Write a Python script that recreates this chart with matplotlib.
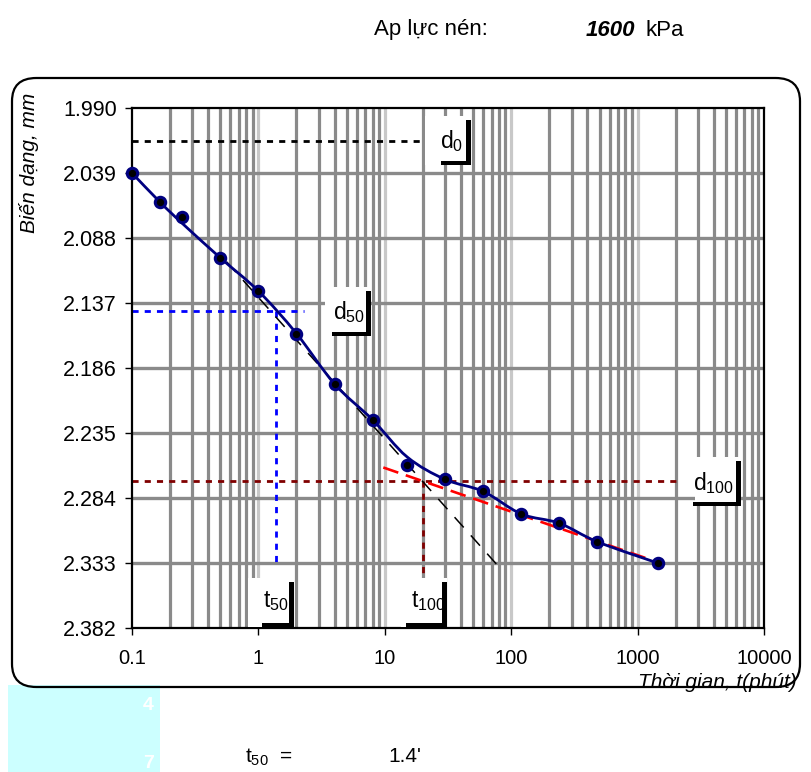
import numpy as np
import matplotlib
matplotlib.use('Agg')
import matplotlib.pyplot as plt
from matplotlib.path import Path
from matplotlib.patches import PathPatch, Rectangle, FancyBboxPatch
from matplotlib.ticker import FixedLocator, NullFormatter

plt.rcParams['font.family'] = ['Liberation Sans', 'DejaVu Sans']
plt.rcParams['mathtext.fontset'] = 'custom'
plt.rcParams['mathtext.rm'] = 'Liberation Sans'
plt.rcParams['mathtext.it'] = 'Liberation Sans:italic'

W, H = 812, 772

# consolidation readings (time in minutes, deformation in mm)
time_min = [0.1, 1 / 6, 0.25, 0.5, 1, 2, 4, 8, 15, 30, 60, 120, 240, 480, 1440]
def_mm = [2.039, 2.061, 2.072, 2.103, 2.128, 2.160, 2.198, 2.225, 2.259,
          2.270, 2.279, 2.296, 2.303, 2.317, 2.333]
# smoothed curve series (passes a little off the 0.25 and 15 min readings)
curve_mm = [2.039, 2.061, 2.077, 2.103, 2.128, 2.160, 2.198, 2.225, 2.253,
            2.270, 2.279, 2.296, 2.303, 2.317, 2.333]

yticks = [1.990, 2.039, 2.088, 2.137, 2.186, 2.235, 2.284, 2.333, 2.382]
xticks = [0.1, 1, 10, 100, 1000, 10000]
xticklabels = ['0.1', '1', '10', '100', '1000', '10000']

d0 = 2.015
d50 = 2.143
d100 = 2.271
t50 = 1.38
t100 = 20.2
t50_text = "1.4'"
pressure = '1600'

# construction lines (t, y) end points
tangent_t = [0.561, 76.7]
tangent_y = [2.106, 2.334]
tail_t = [9.73, 1180]
tail_y = [2.261, 2.3295]

XMIN, XMAX = 0.1, 10000
YTOP, YBOT = 1.990, 2.382


def fx(px):
    return px / W


def fy(py):
    return 1 - py / H


fig = plt.figure(figsize=(W / 100, H / 100), dpi=100)

# cyan block and rounded outer frame
fig.patches.append(Rectangle((fx(8), fy(772)), fx(152), 87 / H, transform=fig.transFigure,
                             facecolor='#ccffff', edgecolor='none', zorder=0.5))
fig.text(fx(154), fy(706), '4', color='white', fontsize=14, fontweight='bold',
         ha='right', va='center', zorder=0.6)
fig.text(fx(154), fy(764), '7', color='white', fontsize=14, fontweight='bold',
         ha='right', va='center', zorder=0.6)
fig.patches.append(FancyBboxPatch((fx(12) + 0.03, fy(687) + 0.03), fx(788) - 0.06, 609 / H - 0.06,
                                  boxstyle='round,pad=0.03', transform=fig.transFigure,
                                  facecolor='none', edgecolor='black', linewidth=1.6, zorder=0.7))

ax = fig.add_axes([fx(132), fy(628), fx(632), 520 / H])
ax.set_xscale('log')
ax.set_xlim(XMIN, XMAX)
ax.set_ylim(YBOT, YTOP)

# grid
minor_pos = [m * 10.0 ** e for e in range(-1, 4) for m in range(2, 10)]
for xm in minor_pos:
    ax.axvline(xm, color='#8a8a8a', lw=2.3, zorder=1)
for xM in xticks[1:-1]:
    ax.axvline(xM, color='#c8c8c8', lw=2.3, zorder=1)
for yv in yticks[1:-1]:
    ax.axhline(yv, color='#8a8a8a', lw=2.4, zorder=1)

ax.set_yticks(yticks)
ax.set_yticklabels([f'{v:.3f}' for v in yticks])
ax.xaxis.set_major_locator(FixedLocator(xticks))
ax.set_xticklabels(xticklabels)
ax.xaxis.set_minor_locator(FixedLocator([]))
ax.xaxis.set_minor_formatter(NullFormatter())
ax.tick_params(axis='both', direction='out', length=5, width=1)
ax.tick_params(axis='y', pad=6, labelsize=15.5)
ax.tick_params(axis='x', pad=10, labelsize=14.5)
for sp in ax.spines.values():
    sp.set_linewidth(1.6)
    sp.set_zorder(5)

# guide lines
dots = (0, (2.2, 2.2))
ax.plot([XMIN, 20.5], [d0, d0], color='black', lw=2, ls=dots, zorder=3)
ax.plot([XMIN, 2.3], [d50, d50], color='#0000ff', lw=2, ls=dots, zorder=3)
ax.plot([t50, t50], [d50, 2.332], color='#0000ff', lw=2, ls=dots, zorder=3)
ax.plot([XMIN, 2050], [d100, d100], color='#800000', lw=2, ls=dots, zorder=3)
ax.plot([t100, t100], [d100, 2.3435], color='#800000', lw=2, ls=dots, zorder=3)

ax.plot(tangent_t, tangent_y, color='black', lw=1.1, ls=(0, (9, 7)), zorder=3)
ax.plot(tail_t, tail_y, color='#ff0000', lw=1.9, ls=(0, (6, 3)), zorder=3)

# smoothed curve: Bezier path built in axes coordinates (log time axis)
ux = (np.log10(time_min) - np.log10(XMIN)) / (np.log10(XMAX) - np.log10(XMIN))
uy = (YBOT - np.array(curve_mm)) / (YBOT - YTOP)
n = len(ux)
verts = [(ux[0], uy[0])]
codes = [Path.MOVETO]
for i in range(n - 1):
    i0 = max(i - 1, 0)
    i3 = min(i + 2, n - 1)
    c1 = (ux[i] + (ux[i + 1] - ux[i0]) / 6, uy[i] + (uy[i + 1] - uy[i0]) / 6)
    c2 = (ux[i + 1] - (ux[i3] - ux[i]) / 6, uy[i + 1] - (uy[i3] - uy[i]) / 6)
    verts += [c1, c2, (ux[i + 1], uy[i + 1])]
    codes += [Path.CURVE4] * 3
ax.add_patch(PathPatch(Path(verts, codes), transform=ax.transAxes, facecolor='none',
                       edgecolor='#000080', lw=2, zorder=4))

ax.plot(time_min, def_mm, ls='none', marker='o', ms=7.5, mfc='black', mec='#000080',
        mew=2.2, zorder=6, clip_on=False)


# label boxes with black corner
def label_box(right, bottom, hbar, text, tx, ty):
    fig.patches.append(Rectangle((fx(right - 46), fy(bottom)), 46 / W, 49 / H,
                                 transform=fig.transFigure, facecolor='white',
                                 edgecolor='none', zorder=2))
    fig.patches.append(Rectangle((fx(right - 5), fy(bottom)), 5 / W, 45 / H,
                                 transform=fig.transFigure, facecolor='black',
                                 edgecolor='none', zorder=2.1))
    fig.patches.append(Rectangle((fx(right - hbar), fy(bottom)), hbar / W, 4 / H,
                                 transform=fig.transFigure, facecolor='black',
                                 edgecolor='none', zorder=2.1))
    fig.text(fx(tx), fy(ty), text, fontsize=16.5, ha='center', va='center', zorder=2.2)


label_box(471, 165, 30, r'$\mathregular{d_{0}}$', 452, 141)
label_box(371, 336, 39, r'$\mathregular{d_{50}}$', 349, 312)
label_box(741, 506, 48, r'$\mathregular{d_{100}}$', 714, 483)
label_box(294, 627, 32, r'$\mathregular{t_{50}}$', 276, 601)
label_box(447, 627, 41, r'$\mathregular{t_{100}}$', 428, 601)

# axis titles
fig.text(fx(29), fy(163), 'Biến dạng, mm', rotation=90, fontsize=15, style='italic',
         ha='center', va='center')
fig.text(fx(797), fy(683), 'Thời gian, t(phút)', fontsize=15, style='italic',
         ha='right', va='center')

# header and result
fig.text(fx(374), fy(30), 'Ap lực nén:', fontsize=16, ha='left', va='center')
fig.text(fx(586), fy(30), pressure, fontsize=16, fontweight='bold', style='italic',
         ha='left', va='center')
fig.text(fx(646), fy(30), 'kPa', fontsize=16, ha='left', va='center')
fig.text(fx(245), fy(757), r'$\mathregular{t_{50}}$' + '  =', fontsize=15,
         ha='left', va='center')
fig.text(fx(388), fy(757), t50_text, fontsize=15, ha='left', va='center')

fig.savefig('out.png', dpi=100)
